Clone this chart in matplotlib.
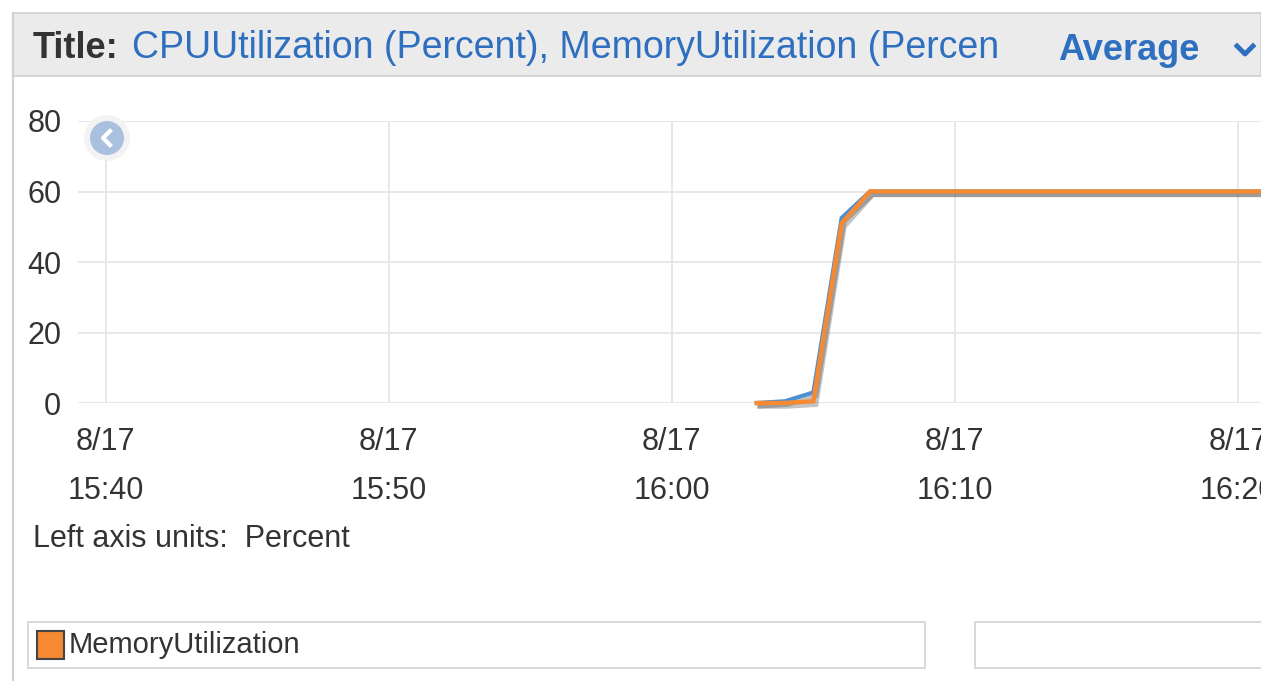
import matplotlib
matplotlib.use("Agg")
import matplotlib.pyplot as plt
import matplotlib.patheffects as pe
from matplotlib.patches import Rectangle, Ellipse
import pandas as pd

plt.rcParams['font.family'] = ['Liberation Sans', 'DejaVu Sans']

# data (1-minute points)
times = ["16:03", "16:04", "16:05", "16:06", "16:07", "16:08", "16:09", "16:10",
         "16:11", "16:12", "16:13", "16:14", "16:15", "16:16", "16:17", "16:18",
         "16:19", "16:20", "16:21"]
cpu = [0, 0.5, 3, 52.5, 60, 60, 60, 60, 60, 60, 60, 60, 60, 60, 60, 60, 60, 60, 60]
memory = [0, 0, 0.5, 51, 60, 60, 60, 60, 60, 60, 60, 60, 60, 60, 60, 60, 60, 60, 60]
tick_times = ["15:40", "15:50", "16:00", "16:10", "16:20"]
tick_labels = ["8/17\n15:40", "8/17\n15:50", "8/17\n16:00", "8/17\n16:10", "8/17\n16:20"]

day = "2015-08-17 "
t = pd.to_datetime([day + s for s in times])
ticks = pd.to_datetime([day + s for s in tick_times])

W, H = 1261, 681
fig = plt.figure(figsize=(W / 100, H / 100), dpi=100)
fig.patch.set_facecolor("white")

def fx(px):
    return px / W

def fy(py):
    return 1 - py / H

blue_txt = "#2f6fbf"
grey_txt = "#333333"

# panel borders / header
fig.add_artist(Rectangle((fx(13), fy(76)), fx(W - 13), (76 - 13) / H,
                         transform=fig.transFigure, facecolor="#ebebeb",
                         edgecolor="#cfcfcf", lw=1.2))
fig.add_artist(plt.Line2D([fx(13), fx(13)], [0, fy(13)], transform=fig.transFigure,
                          color="#d0d0d0", lw=1.5))

fig.text(fx(33), fy(48), "Title:", fontsize=26, fontweight="bold", color=grey_txt,
         va="center")
ttl = fig.text(fx(132), fy(48), "CPUUtilization (Percent), MemoryUtilization (Percent)",
               fontsize=27, color=blue_txt, va="center")
clip = Rectangle((fx(0), fy(76)), fx(997), 63 / H, transform=fig.transFigure)
ttl.set_clip_path(clip)
ttl.set_clip_on(True)
fig.text(fx(1058), fy(50), "Average", fontsize=26, fontweight="bold", color=blue_txt,
         va="center")
fig.add_artist(plt.Line2D([fx(1237), fx(1245), fx(1253)], [fy(46), fy(54), fy(46)],
                          transform=fig.transFigure, color=blue_txt, lw=3.5))

# chart
ax = fig.add_axes([fx(78), fy(403), fx(W - 78), (403 - 121) / H])
ax.set_xlim(pd.Timestamp(day + "15:39:01"), pd.Timestamp(day + "16:20:49"))
ax.set_ylim(0, 80)
ax.set_yticks([0, 20, 40, 60, 80])
ax.set_xticks(ticks)
ax.set_xticklabels(tick_labels, linespacing=1.85)
ax.tick_params(length=0, labelsize=22, colors=grey_txt)
ax.tick_params(axis="y", pad=12)
ax.tick_params(axis="x", pad=17)
for s in ax.spines.values():
    s.set_visible(False)
ax.grid(True, color="#e6e6e6", lw=1.3)
ax.set_axisbelow(True)

shadow = [pe.SimpleLineShadow(offset=(2, -2.5), alpha=0.35, shadow_color="#555555"),
          pe.Normal()]
ax.plot(t, cpu, color="#4d8fd1", lw=3, solid_joinstyle="miter", path_effects=shadow,
        clip_on=False)
ax.plot(t, memory, color="#f58a32", lw=3.2, solid_joinstyle="miter", path_effects=shadow,
        clip_on=False)

# back button
fig.add_artist(Ellipse((fx(107), fy(138)), 46 / W, 46 / H, transform=fig.transFigure,
                       facecolor="#f3f3f3", edgecolor="none"))
fig.add_artist(Ellipse((fx(107), fy(138)), 34 / W, 34 / H, transform=fig.transFigure,
                       facecolor="#a9c0de", edgecolor="none"))
fig.add_artist(plt.Line2D([fx(110), fx(103), fx(110)], [fy(131), fy(138), fy(145)],
                          transform=fig.transFigure, color="white", lw=3))

fig.text(fx(33), fy(539), "Left axis units:  Percent", fontsize=22, color=grey_txt,
         va="center")

# legend boxes
fig.add_artist(Rectangle((fx(28), fy(668)), fx(925 - 28), 46 / H, transform=fig.transFigure,
                         facecolor="white", edgecolor="#d6d6d6", lw=1.3))
fig.add_artist(Rectangle((fx(975), fy(668)), fx(W - 975 + 10), 46 / H,
                         transform=fig.transFigure, facecolor="white",
                         edgecolor="#d6d6d6", lw=1.3))
fig.add_artist(Rectangle((fx(37), fy(659)), fx(27), 28 / H, transform=fig.transFigure,
                         facecolor="#f58a32", edgecolor="#444444", lw=1.5))
fig.text(fx(69), fy(645), "MemoryUtilization", fontsize=21, color=grey_txt, va="center")

fig.savefig("out.png", dpi=100)
